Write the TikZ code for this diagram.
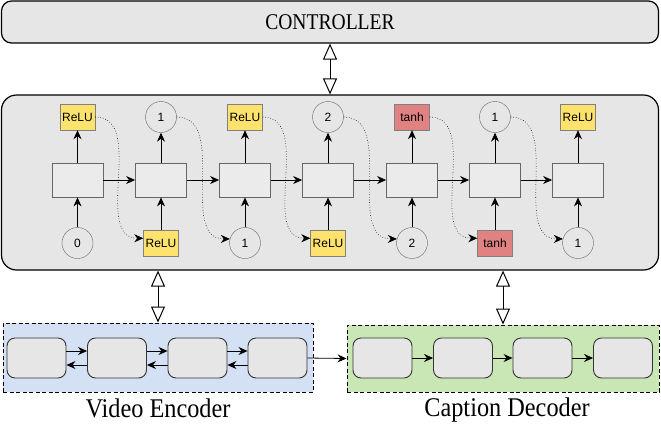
\documentclass[tikz,border=0pt]{standalone}
\usepackage{fontspec}
\setmainfont{Liberation Serif}
\setsansfont{Liberation Sans}
\usetikzlibrary{arrows.meta}

\definecolor{boxgray}{HTML}{E6E6E6}
\definecolor{cellgray}{HTML}{EBEBEB}
\definecolor{reluyellow}{HTML}{FDE36E}
\definecolor{tanhred}{HTML}{E08282}
\definecolor{encblue}{HTML}{D4E1F5}
\definecolor{decgreen}{HTML}{C9E7B5}

\begin{document}
\begin{tikzpicture}[x=1pt, y=-1pt, >={Stealth[length=9pt,width=8pt]},
    cell/.style={draw=black!60, fill=cellgray, line width=0.8pt, minimum width=51pt, minimum height=34pt},
    relu/.style={draw=black!50, fill=reluyellow, font=\sffamily\fontsize{12}{12}\selectfont, minimum width=35pt, minimum height=26pt, inner sep=0pt},
    tanhbox/.style={relu, fill=tanhred},
    num/.style={circle, draw=black!60, fill=boxgray, font=\sffamily\fontsize{12}{12}\selectfont, minimum size=31pt, inner sep=0pt},
    rnnbox/.style={draw=black!80, fill=boxgray, rounded corners=8pt, line width=0.9pt, minimum width=59pt, minimum height=40pt},
    group/.style={draw, dash pattern=on 4pt off 2.5pt, line width=1pt},
    biarrow/.style={line width=1pt, {Triangle[open,length=16pt,width=14pt]}-{Triangle[open,length=16pt,width=14pt]}}]
    \useasboundingbox (0,0) rectangle (661,424);

    % Controller
    \node[draw, fill=boxgray, line width=1.2pt, rounded corners=10pt, minimum width=657pt, minimum height=42pt]
        (ctrl) at (330,22) {\fontsize{22.5}{24}\selectfont\scalebox{0.87}[1]{CONTROLLER}};

    % Mittleres Netz
    \node[draw, fill=boxgray, line width=1.2pt, rounded corners=15pt, minimum width=657pt, minimum height=175pt]
        (mid) at (330,182.5) {};
    \draw[biarrow] (ctrl) -- (mid);

    % Zellen
    \node[cell] (c1) at (77.5,180) {};
    \node[cell] (c2) at (161,180) {};
    \node[cell] (c3) at (245,180) {};
    \node[cell] (c4) at (328,180) {};
    \node[cell] (c5) at (412,180) {};
    \node[cell] (c6) at (495,180) {};
    \node[cell] (c7) at (578,180) {};

    % Ausgaben oben
    \node[relu] (t1) at (77.5,117) {ReLU};
    \node[num] (t2) at (161,117) {1};
    \node[relu] (t3) at (245,117) {ReLU};
    \node[num] (t4) at (328,117) {2};
    \node[tanhbox] (t5) at (412,117) {tanh};
    \node[num] (t6) at (495,117) {1};
    \node[relu] (t7) at (578,117) {ReLU};

    % Eingaben unten
    \node[num] (b1) at (77.5,243) {0};
    \node[relu] (b2) at (161,243) {ReLU};
    \node[num] (b3) at (245,243) {1};
    \node[relu] (b4) at (328,243) {ReLU};
    \node[num] (b5) at (412,243) {2};
    \node[tanhbox] (b6) at (495,243) {tanh};
    \node[num] (b7) at (578,243) {1};

    % Pfeile
    \draw[->, line width=0.8pt] (c1) -- (c2);
    \draw[->, line width=0.8pt] (c2) -- (c3);
    \draw[->, line width=0.8pt] (c3) -- (c4);
    \draw[->, line width=0.8pt] (c4) -- (c5);
    \draw[->, line width=0.8pt] (c5) -- (c6);
    \draw[->, line width=0.8pt] (c6) -- (c7);

    \draw[->, line width=0.8pt] (b1) -- (c1);
    \draw[->, line width=0.8pt] (b2) -- (c2);
    \draw[->, line width=0.8pt] (b3) -- (c3);
    \draw[->, line width=0.8pt] (b4) -- (c4);
    \draw[->, line width=0.8pt] (b5) -- (c5);
    \draw[->, line width=0.8pt] (b6) -- (c6);
    \draw[->, line width=0.8pt] (b7) -- (c7);

    \draw[->, line width=0.8pt] (c1) -- (t1);
    \draw[->, line width=0.8pt] (c2) -- (t2);
    \draw[->, line width=0.8pt] (c3) -- (t3);
    \draw[->, line width=0.8pt] (c4) -- (t4);
    \draw[->, line width=0.8pt] (c5) -- (t5);
    \draw[->, line width=0.8pt] (c6) -- (t6);
    \draw[->, line width=0.8pt] (c7) -- (t7);

    % gepunktete Pfeile
    \draw[dotted, ->, line width=0.6pt] (t1.east) to[out=0, in=180] (b2.165);
    \draw[dotted, ->, line width=0.6pt] (t2.east) to[out=0, in=180] (b3.165);
    \draw[dotted, ->, line width=0.6pt] (t3.east) to[out=0, in=180] (b4.165);
    \draw[dotted, ->, line width=0.6pt] (t4.east) to[out=0, in=180] (b5.165);
    \draw[dotted, ->, line width=0.6pt] (t5.east) to[out=0, in=180] (b6.165);
    \draw[dotted, ->, line width=0.6pt] (t6.east) to[out=0, in=180] (b7.165);

    % Encoder
    \node[group, fill=encblue, minimum width=310pt, minimum height=69pt] (enc) at (158,357.5) {};
    \node (enclbl) at (158,408) {\fontsize{27}{28}\selectfont\scalebox{0.9}[1]{Video Encoder}};
    \node[rnnbox] (e1) at (36.5,358) {};
    \node[rnnbox] (e2) at (117,358) {};
    \node[rnnbox] (e3) at (197.5,358) {};
    \node[rnnbox] (e4) at (277.5,358) {};
    \draw[->, line width=0.8pt] ([yshift=7pt]e1.east) -- ([yshift=7pt]e2.west);
    \draw[->, line width=0.8pt] ([yshift=7pt]e2.east) -- ([yshift=7pt]e3.west);
    \draw[->, line width=0.8pt] ([yshift=7pt]e3.east) -- ([yshift=7pt]e4.west);
    \draw[->, line width=0.8pt] ([yshift=-7pt]e2.west) -- ([yshift=-7pt]e1.east);
    \draw[->, line width=0.8pt] ([yshift=-7pt]e3.west) -- ([yshift=-7pt]e2.east);
    \draw[->, line width=0.8pt] ([yshift=-7pt]e4.west) -- ([yshift=-7pt]e3.east);

    % Decoder
    \node[group, fill=decgreen, minimum width=312pt, minimum height=67pt] (dec) at (503,358.5) {};
    \node (declbl) at (507,410) {\fontsize{27}{28}\selectfont\scalebox{0.9}[1]{Caption Decoder}};
    \node[rnnbox] (d1) at (382.5,358) {};
    \node[rnnbox] (d2) at (463,358) {};
    \node[rnnbox] (d3) at (542.5,358) {};
    \node[rnnbox] (d4) at (623,358) {};
    \draw[->, line width=0.8pt] (d1) -- (d2);
    \draw[->, line width=0.8pt] (d2) -- (d3);
    \draw[->, line width=0.8pt] (d3) -- (d4);

    % Verbindungen
    \draw[->, line width=0.8pt] (e4.east) -- (dec.west);
    \draw[biarrow] (enc.north |- mid.south) -- (enc.north);
    \draw[biarrow] (dec.north |- mid.south) -- (dec.north);
\end{tikzpicture}
\end{document}
